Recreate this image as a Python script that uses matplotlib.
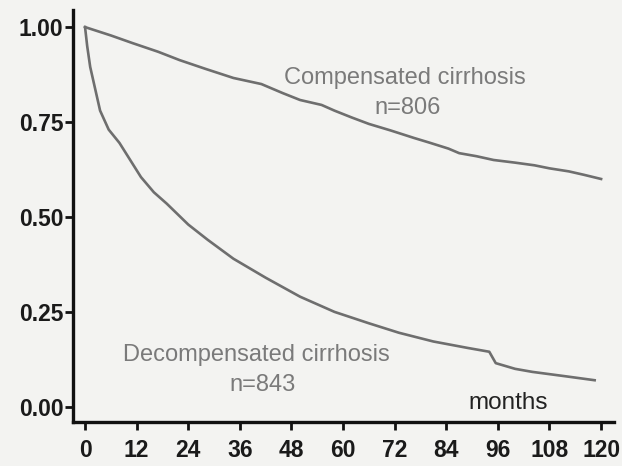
import matplotlib.pyplot as plt

plt.rcParams['font.family'] = ['Liberation Sans', 'DejaVu Sans']

# Kaplan-Meier survival (months, probability)
comp_months = [0, 6, 11, 17, 22, 28, 34.5, 41, 46, 50, 55, 58, 62, 66, 71, 76.5, 80, 84.5, 87, 91, 95, 100, 104.5, 108, 112.5, 116, 120]
comp_surv = [1.00, 0.978, 0.958, 0.935, 0.913, 0.89, 0.866, 0.85, 0.826, 0.808, 0.795, 0.78, 0.762, 0.745, 0.728, 0.708, 0.696, 0.68, 0.668, 0.66, 0.65, 0.643, 0.636, 0.628, 0.62, 0.611, 0.60]

decomp_months = [0, 0.5, 1.2, 2.5, 3.5, 5.5, 8, 10.5, 13, 16, 19, 24, 28.5, 34.5, 42, 50, 55, 58, 66, 73, 81, 89, 94, 95.5, 100, 104, 112, 118.5]
decomp_surv = [1.00, 0.95, 0.895, 0.83, 0.78, 0.73, 0.695, 0.65, 0.605, 0.565, 0.535, 0.48, 0.44, 0.39, 0.34, 0.29, 0.265, 0.25, 0.22, 0.195, 0.172, 0.155, 0.145, 0.115, 0.10, 0.092, 0.08, 0.07]

x_ticks = [0, 12, 24, 36, 48, 60, 72, 84, 96, 108, 120]
y_ticks = [0.0, 0.25, 0.5, 0.75, 1.0]
y_labels = ['0.00', '0.25', '0.50', '0.75', '1.00']

bg = '#f3f3f1'
line_col = '#6e6e6e'
text_col = '#7a7a7a'

fig = plt.figure(figsize=(6.22, 4.66), dpi=100, facecolor=bg)
ax = fig.add_axes([73 / 622, 44 / 466, 541 / 622, 412 / 466], facecolor=bg)

ax.plot(comp_months, comp_surv, color=line_col, lw=1.9)
ax.plot(decomp_months, decomp_surv, color=line_col, lw=1.9)

ax.set_xlim(-2.8, 123)
ax.set_ylim(-0.04, 1.045)

ax.set_xticks(x_ticks)
ax.set_xticklabels([str(t) for t in x_ticks])
ax.set_yticks(y_ticks)
ax.set_yticklabels(y_labels)

for s in ['top', 'right']:
    ax.spines[s].set_visible(False)
for s in ['left', 'bottom']:
    ax.spines[s].set_linewidth(2.4)
    ax.spines[s].set_color('#111111')

ax.tick_params(axis='both', direction='out', length=6, width=2, color='#111111',
               labelsize=16.5, labelcolor='#1a1a1a')
ax.tick_params(axis='x', pad=6)
ax.tick_params(axis='y', pad=1)
for lab in ax.get_xticklabels() + ax.get_yticklabels():
    lab.set_fontweight('bold')

# curve labels
ax.text(74.4, 0.866, 'Compensated cirrhosis', ha='center', va='center',
        fontsize=17, color=text_col)
ax.text(75, 0.787, 'n=806', ha='center', va='center', fontsize=17, color=text_col)
ax.text(39.9, 0.137, 'Decompensated cirrhosis', ha='center', va='center',
        fontsize=17, color=text_col)
ax.text(41.3, 0.058, 'n=843', ha='center', va='center', fontsize=17, color=text_col)
ax.text(98.3, 0.01, 'months', ha='center', va='center', fontsize=17.5, color='#222222')

fig.savefig('out.png', dpi=100, facecolor=bg)
